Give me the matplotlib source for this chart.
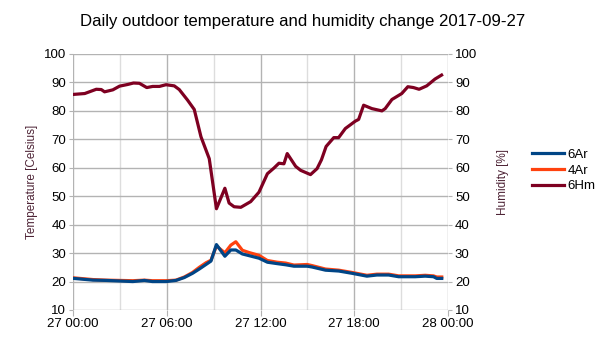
import numpy as np
import pandas as pd
import matplotlib
matplotlib.use('Agg')
from matplotlib import pyplot as plt
import matplotlib.dates as mdates

plt.rcParams['font.family'] = ['Liberation Sans', 'DejaVu Sans']

day = pd.Timestamp('2017-09-27')

# temperature samples (hours since midnight) for both sensors
t_hours = [0.05, 1.28, 2.13, 2.98, 3.83, 4.57, 5.08, 5.96, 6.59, 7.12, 7.65, 8.08, 8.51, 8.83,
           9.18, 9.72, 10.10, 10.42, 10.84, 11.27, 11.91, 12.44, 13.07, 13.61, 14.14, 14.99,
           15.31, 16.16, 17.01, 17.86, 18.81, 19.45, 20.20, 20.84, 21.90, 22.54, 23.07, 23.28, 23.60]
temp_6ar = [21.1, 20.5, 20.4, 20.2, 20.0, 20.4, 20.0, 20.0, 20.4, 21.4, 22.9, 24.4, 26.0, 27.2,
            33.0, 28.9, 31.1, 31.1, 29.7, 29.1, 28.2, 26.8, 26.3, 25.9, 25.4, 25.4,
            25.1, 24.0, 23.7, 22.9, 21.9, 22.3, 22.3, 21.7, 21.7, 21.9, 21.7, 21.1, 21.1]
temp_4ar = [21.3, 20.7, 20.5, 20.4, 20.3, 20.5, 20.3, 20.3, 20.5, 21.6, 23.2, 25.0, 26.6, 27.5,
            32.5, 30.1, 32.8, 34.0, 31.0, 30.2, 29.2, 27.4, 26.8, 26.5, 25.8, 26.0,
            25.6, 24.4, 24.0, 23.2, 22.2, 22.6, 22.6, 22.0, 22.0, 22.2, 22.0, 21.6, 21.6]

# humidity samples
h_hours = [0.04, 0.75, 1.49, 1.81, 2.02, 2.55, 2.98, 3.51, 3.87, 4.25, 4.72, 5.10, 5.53, 5.95,
           6.48, 6.80, 7.33, 7.76, 8.19, 8.72, 9.18, 9.72, 9.99, 10.31, 10.74, 11.37, 11.90,
           12.44, 12.86, 13.18, 13.50, 13.71, 14.25, 14.57, 15.20, 15.62, 15.90, 16.20, 16.69,
           17.00, 17.43, 18.07, 18.28, 18.60, 19.13, 19.77, 19.98, 20.41, 21.04, 21.43, 21.79,
           22.15, 22.64, 23.17, 23.59]
hum_6hm = [85.8, 86.1, 87.6, 87.5, 86.7, 87.4, 88.7, 89.3, 89.8, 89.7, 88.2, 88.6, 88.6, 89.2,
           88.8, 87.5, 83.8, 80.5, 70.9, 63.2, 45.6, 52.8, 47.6, 46.3, 46.1, 48.1, 51.4,
           57.9, 59.9, 61.6, 61.4, 65.0, 60.5, 59.1, 57.6, 59.7, 62.8, 67.5, 70.6,
           70.6, 73.8, 76.4, 77.0, 82.0, 80.8, 80.0, 80.8, 84.0, 86.1, 88.5, 88.2,
           87.6, 88.8, 91.2, 92.6]

t_time = day + pd.to_timedelta(t_hours, unit='h')
h_time = day + pd.to_timedelta(h_hours, unit='h')

fig = plt.figure(figsize=(6.05, 3.4), dpi=100)
ax = fig.add_axes([73 / 605, 1 - 310 / 340, (448 - 73) / 605, (310 - 54) / 340])
ax2 = ax.twinx()

l2, = ax.plot(t_time, temp_4ar, color='#ff420e', lw=2.3, label='4Ar', zorder=3)
l1, = ax.plot(t_time, temp_6ar, color='#004586', lw=2.3, label='6Ar', zorder=4)
l3, = ax2.plot(h_time, hum_6hm, color='#7e0021', lw=2.3, label='6Hm')

for a in (ax, ax2):
    a.set_ylim(10, 100)
    a.set_yticks(np.arange(10, 101, 10))
    a.tick_params(axis='y', length=3, color='#b3b3b3', labelsize=9.5, pad=2)
    for s in a.spines.values():
        s.set_visible(False)

ax.set_xlim(day, day + pd.Timedelta(hours=24))
ax.xaxis.set_major_locator(mdates.HourLocator(byhour=[0, 6, 12, 18]))
ax.xaxis.set_minor_locator(mdates.HourLocator(byhour=[3, 9, 15, 21]))
ax.xaxis.set_major_formatter(mdates.DateFormatter('%d %H:%M'))
ax.tick_params(axis='x', which='major', length=4, color='#b3b3b3', labelsize=9.5, pad=2)
ax.tick_params(axis='x', which='minor', length=0)

ax.grid(True, axis='y', color='#b3b3b3', lw=1)
ax.grid(True, axis='x', which='major', color='#b3b3b3', lw=1)
ax.grid(True, axis='x', which='minor', color='#dddddd', lw=1)
ax.set_axisbelow(True)

ax.set_ylabel('Temperature [Celsius]', fontsize=8.5, color='#4e2436', labelpad=4)
ax2.set_ylabel('Humidity [%]', fontsize=8.5, color='#4e2436', labelpad=14)

fig.suptitle('Daily outdoor temperature and humidity change 2017-09-27', fontsize=12.1, y=0.96)

fig.legend(handles=[l1, l2, l3], loc='upper left', bbox_to_anchor=(520 / 605, 1 - 137 / 340),
           frameon=False, fontsize=9.5, handlelength=2.4, handletextpad=0.3, labelspacing=0.25)

fig.savefig('out.png', dpi=100)
